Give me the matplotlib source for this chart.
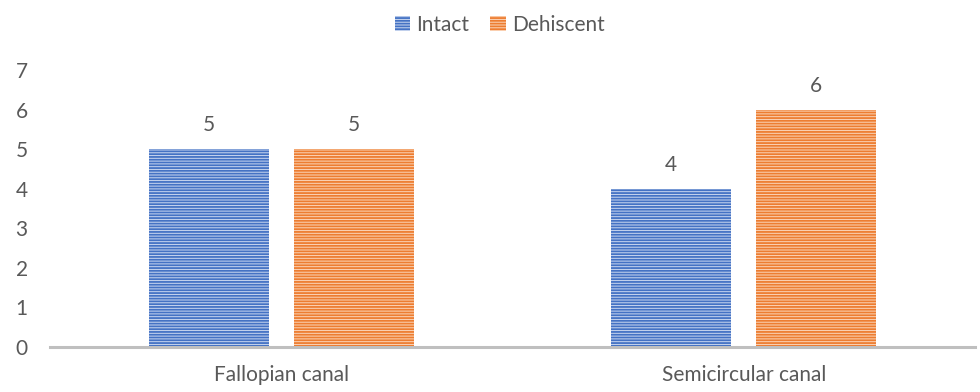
import matplotlib.pyplot as plt
import numpy as np

categories = ['Fallopian canal', 'Semicircular canal']
intact = [5, 4]
dehiscent = [5, 6]
series_names = ['Intact', 'Dehiscent']

plt.rcParams['font.family'] = ['Lato', 'DejaVu Sans']
plt.rcParams['hatch.linewidth'] = 1.3
text_color = '#595959'
fs = 15

fig = plt.figure(figsize=(9.8, 3.92), dpi=100)
ax = fig.add_axes([50 / 980, 45 / 392, 925 / 980, 277 / 392])

x = np.arange(len(categories))
width = 0.26
gap = 0.054
styles = [('#cbd8f0', '#4472c4'), ('#fbd6ba', '#ed7d31')]

handles = []
for i, (vals, (light, dark)) in enumerate(zip([intact, dehiscent], styles)):
    offset = (i - 0.5) * (width + gap)
    bars = ax.bar(x + offset, vals, width, color=light, edgecolor=dark,
                  hatch='------', linewidth=0, label=series_names[i])
    handles.append(bars)
    for b, v in zip(bars, vals):
        ax.annotate(str(v), xy=(b.get_x() + b.get_width() / 2, v),
                    xytext=(0, 10), textcoords='offset points',
                    ha='center', va='bottom', fontsize=fs, color=text_color)

ax.set_xlim(-0.5, 1.5)
ax.set_ylim(0, 7)
ax.set_xticks(x)
ax.set_xticklabels(categories)
ax.set_yticks(range(0, 8))

for s in ['top', 'right', 'left']:
    ax.spines[s].set_visible(False)
ax.spines['bottom'].set_color('#bfbfbf')
ax.spines['bottom'].set_linewidth(2.2)

ax.tick_params(axis='both', length=0, labelsize=fs, colors=text_color)
ax.tick_params(axis='y', pad=16)
ax.tick_params(axis='x', pad=13)

leg = fig.legend(handles=handles, loc='upper center', bbox_to_anchor=(0.51, 1.01),
                 ncol=2, frameon=False, fontsize=fs, handlelength=0.75,
                 handleheight=0.75, handletextpad=0.3, columnspacing=1.0)
for t in leg.get_texts():
    t.set_color(text_color)

fig.savefig('out.png', dpi=100)
